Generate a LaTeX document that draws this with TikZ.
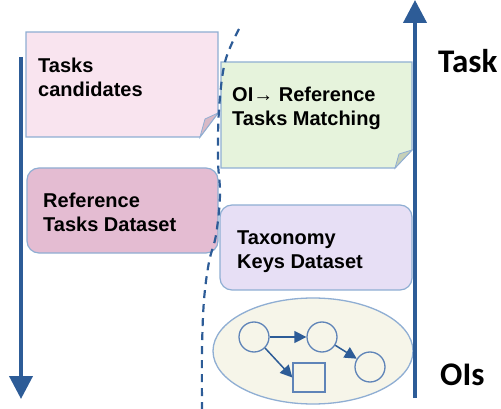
\documentclass[tikz,border=0pt]{standalone}
\usepackage{fontspec}
\setmainfont{Liberation Sans}
\newfontfamily\calib{Carlito}
\usetikzlibrary{arrows.meta,shapes.geometric}
\definecolor{mainblue}{HTML}{2D5C97}
\definecolor{edgeblue}{HTML}{8FAED3}
\definecolor{pinkA}{HTML}{F9E4EF}
\definecolor{pinkAfold}{HTML}{D8B9C6}
\definecolor{greenA}{HTML}{E6F3DC}
\definecolor{greenfold}{HTML}{C6D0B8}
\definecolor{pinkB}{HTML}{E4BCD2}
\definecolor{lav}{HTML}{E7DFF5}
\definecolor{cream}{HTML}{F6F5E9}
\definecolor{circedge}{HTML}{5F84B8}
\tikzset{
  boxedge/.style={draw=edgeblue, line width=1.2pt},
  boxtext/.style={font=\bfseries\fontsize{20}{24}\selectfont, align=left, anchor=base west, inner sep=0pt},
  bigaxis/.style={draw=mainblue, line width=4pt, -{Triangle[length=23pt,width=23pt]}},
  axislabel/.style={font=\calib\bfseries\fontsize{33}{36}\selectfont, anchor=base west, inner sep=0pt},
  oicirc/.style={circle, draw=circedge, line width=1.3pt, minimum size=30pt, inner sep=0pt},
  oisq/.style={rectangle, draw=circedge, line width=1.3pt, minimum width=32pt, minimum height=29pt, inner sep=0pt},
  oiarrow/.style={draw=mainblue, line width=1.5pt, -{Triangle[length=12pt,width=12pt]}},
  sep/.style={draw=mainblue, line width=2.2pt, dash pattern=on 8pt off 6pt}
}
\begin{document}
\begin{tikzpicture}[x=1pt,y=-1pt]
\useasboundingbox (0,0) rectangle (501,409);
% Tasks candidates (folded corner)
\path[fill=pinkA, boxedge] (26,32) -- (218,32) -- (218,113) -- (200,137) -- (26,137) -- cycle;
\path[fill=pinkAfold, draw=edgeblue, line width=0.8pt] (218,113) -- (200,137) -- (205,119) -- cycle;
% OI -> Reference Tasks Matching (folded corner)
\path[fill=greenA, boxedge] (221,62) -- (412,62) -- (412,150) -- (395,168) -- (221,168) -- cycle;
\path[fill=greenfold, draw=edgeblue, line width=0.8pt] (412,150) -- (395,168) -- (399,154) -- cycle;
% Reference Tasks Dataset
\path[fill=pinkB, boxedge, rounded corners=12pt] (27,168) rectangle (218,253);
% Taxonomy Keys Dataset
\path[fill=lav, boxedge, rounded corners=12pt] (220,205) rectangle (412,290);
% OIs ellipse
\node[ellipse, draw=edgeblue, fill=cream, line width=1.3pt, minimum width=200pt, minimum height=106pt, inner sep=0pt] (ois) at (313,351) {};
\node[oicirc] (c1) at (254,337) {};
\node[oicirc] (c2) at (322,337) {};
\node[oicirc] (c3) at (370,367) {};
\node[oisq] (sq) at (309,377.5) {};
\draw[oiarrow] (c1) -- (c2);
\draw[oiarrow] (c1.-45) -- (sq.west);
\draw[oiarrow] (c2) -- (c3);
% axes
\coordinate (ltop) at (21,57);
\coordinate (lbot) at (21,399);
\coordinate (rbot) at (415,398);
\coordinate (rtop) at (415,0);
\draw[bigaxis] (ltop) -- (lbot);
\draw[bigaxis] (rbot) -- (rtop);
% dashed separator
\draw[sep] plot[smooth, tension=0.6] coordinates {(239,29) (225,62) (219,110) (218,160) (220,195) (216,235) (209,262) (204,300) (202,350) (202,409)};
% texts (anchor at baseline of the last line)
\node[boxtext] (t1) at (38,97) {Tasks\\candidates};
\node[boxtext] (t2) at (232,126) {OI→ Reference\\Tasks Matching};
\node[boxtext] (t3) at (43,231) {Reference\\Tasks Dataset};
\node[boxtext] (t4) at (237,268) {Taxonomy\\Keys Dataset};
\node[axislabel] (task) at (438,73) {Task};
\node[axislabel] (oilab) at (440,385) {OIs};
\end{tikzpicture}
\end{document}
